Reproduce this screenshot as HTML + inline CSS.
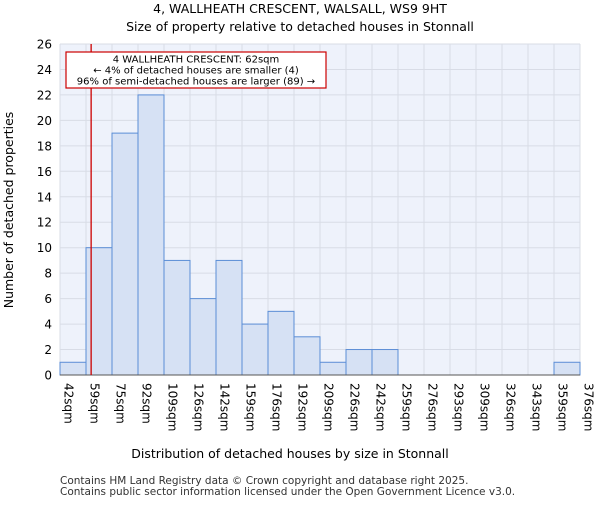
<!DOCTYPE html>
<html><head><meta charset="utf-8"><style>body{margin:0;background:#fff}svg text{font-family:"DejaVu Sans","Liberation Sans",sans-serif}</style></head>
<body>
<svg id="c" width="600" height="500" xmlns="http://www.w3.org/2000/svg">
<text x="300" y="13" font-size="12.5" text-anchor="middle">4, WALLHEATH CRESCENT, WALSALL, WS9 9HT</text>
<text x="300" y="31" font-size="12.5" text-anchor="middle">Size of property relative to detached houses in Stonnall</text>
<g id="plot"></g>
<text x="290" y="458" font-size="12.5" text-anchor="middle">Distribution of detached houses by size in Stonnall</text>
<text transform="translate(13,210) rotate(-90)" font-size="12.5" text-anchor="middle">Number of detached properties</text>
<text x="60" y="484" font-size="10.5" fill="#333">Contains HM Land Registry data © Crown copyright and database right 2025.</text>
<text x="60" y="495" font-size="10.5" fill="#333">Contains public sector information licensed under the Open Government Licence v3.0.</text>
</svg>
<script>
const binLabels=["42sqm","59sqm","75sqm","92sqm","109sqm","126sqm","142sqm","159sqm","176sqm","192sqm","209sqm","226sqm","242sqm","259sqm","276sqm","293sqm","309sqm","326sqm","343sqm","359sqm","376sqm"];
const counts=[1,10,19,22,9,6,9,4,5,3,1,2,2,0,0,0,0,0,0,1];
const yTicks=[0,2,4,6,8,10,12,14,16,18,20,22,24,26];
const propertySize=62;
const binStart=42, binEnd=376;
const L=60,R=580,T=44,B=375,yMax=26;
const NS="http://www.w3.org/2000/svg";
const g=document.getElementById('plot');
const bw=(R-L)/counts.length;
const x=i=>L+i*bw;
const xv=v=>L+(v-binStart)/(binEnd-binStart)*(R-L);
const y=v=>B-v/yMax*(B-T);
function mk(t,a,p){const e=document.createElementNS(NS,t);for(const k in a)e.setAttribute(k,a[k]);(p||g).appendChild(e);return e;}
const bg=mk('rect',{x:L,y:T,width:R-L,height:B-T,fill:'#eef2fb'});


for(let i=0;i<=counts.length;i++){const l=mk('line',{x1:x(i),x2:x(i),y1:T,y2:B,stroke:'#d8dce6','stroke-width':1});

}
yTicks.forEach(v=>{const l=mk('line',{x1:L,x2:R,y1:y(v),y2:y(v),stroke:'#d8dce6','stroke-width':1});


const t=mk('text',{x:L-8,y:y(v)+4.5,'font-size':12,'text-anchor':'end'});t.textContent=v;

});
counts.forEach((c,i)=>{if(c<=0)return;const r=mk('rect',{x:x(i),y:y(c),width:bw,height:B-y(c),fill:'#d6e1f4',stroke:'#5b8dd6','stroke-width':1});

});
binLabels.forEach((s,i)=>{const t=mk('text',{transform:`translate(${x(i)+4.5},${B+8}) rotate(90)`,'font-size':12});t.textContent=s;

});
const ax=mk('line',{x1:L,x2:R,y1:B,y2:B,stroke:'#555'});


const px=xv(propertySize);
const pl=mk('line',{x1:px,x2:px,y1:T,y2:B,stroke:'#cc0000','stroke-width':1.3});


const box=mk('rect',{x:66,y:52,width:260,height:36,fill:'#fff',stroke:'#cc0000','stroke-width':1.2});


["4 WALLHEATH CRESCENT: 62sqm","← 4% of detached houses are smaller (4)","96% of semi-detached houses are larger (89) →"].forEach((s,i)=>{const t=mk('text',{x:196,y:62.5+i*11,'font-size':10,'text-anchor':'middle'});t.textContent=s;

});
</script>
</body></html>
